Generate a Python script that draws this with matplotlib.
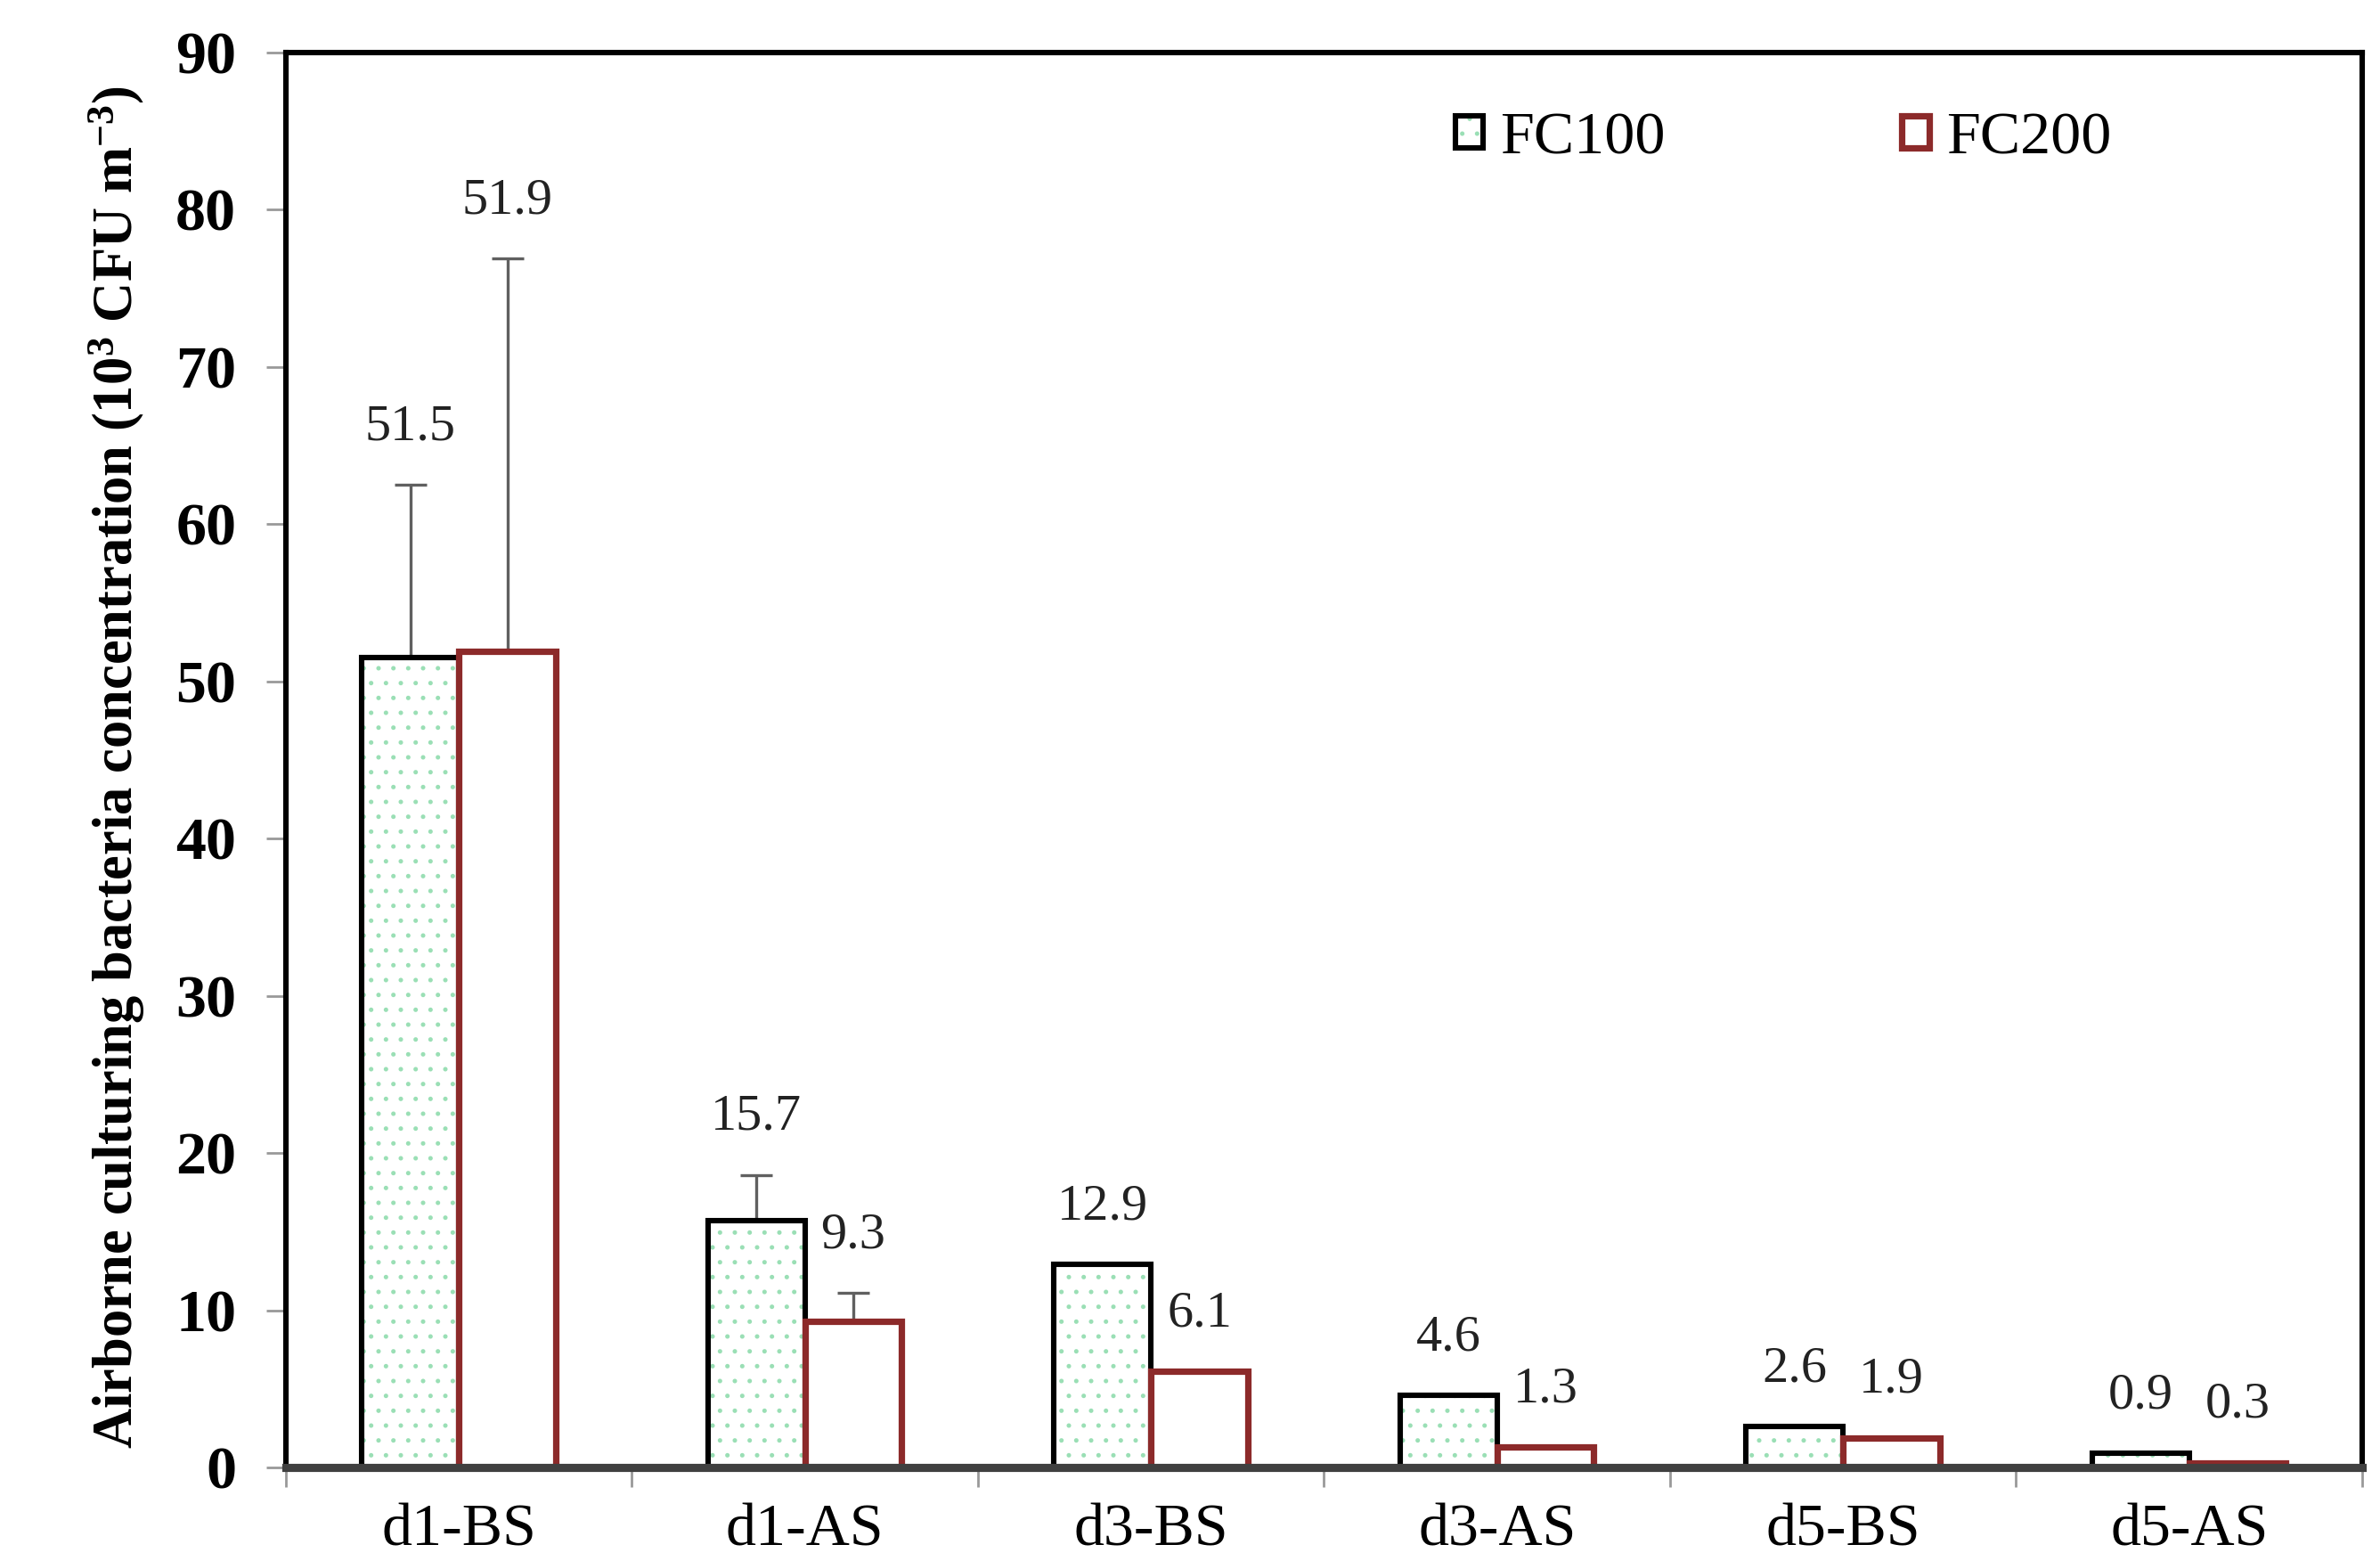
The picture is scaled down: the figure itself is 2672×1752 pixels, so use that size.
import numpy as np
import matplotlib
matplotlib.use('Agg')
import matplotlib.pyplot as plt
from matplotlib.patches import Patch
from matplotlib.legend_handler import HandlerTuple

categories = ['d1-BS', 'd1-AS', 'd3-BS', 'd3-AS', 'd5-BS', 'd5-AS']
series_names = ['FC100', 'FC200']
fc100 = [51.5, 15.7, 12.9, 4.6, 2.6, 0.9]
fc200 = [51.9, 9.3, 6.1, 1.3, 1.9, 0.3]
fc100_err = [11.0, 2.9, 0, 0, 0, 0]
fc200_err = [25.0, 1.8, 0, 0, 0, 0]
y_ticks = [0, 10, 20, 30, 40, 50, 60, 70, 80, 90]

plt.rcParams['font.family'] = ['Liberation Serif', 'DejaVu Serif']
plt.rcParams['mathtext.fontset'] = 'custom'
plt.rcParams['mathtext.default'] = 'regular'
plt.rcParams['hatch.linewidth'] = 0.6

GREEN = '#9adfb5'
RED = '#8c2a2a'

fig = plt.figure(figsize=(13.36, 8.76), dpi=200)
ax = fig.add_axes([0.1201, 0.0599, 0.8724, 0.9064])

x = np.arange(len(categories))
w = 0.28

ax.bar(x - w / 2, fc100, w, facecolor='white', edgecolor=GREEN, linewidth=0, hatch='..', zorder=1)
ax.bar(x - w / 2, fc100, w, facecolor='none', edgecolor='black', linewidth=2.2, zorder=1.1)
ax.bar(x + w / 2, fc200, w, facecolor='white', edgecolor=RED, linewidth=2.6, zorder=1.2)

for vals, errs, off in [(fc100, fc100_err, -w / 2), (fc200, fc200_err, w / 2)]:
    v = np.array(vals)
    e = np.array(errs)
    m = e > 0
    ax.errorbar(x[m] + off, v[m], yerr=[np.zeros(m.sum()), e[m]], fmt='none',
                ecolor='#606060', elinewidth=1.2, capsize=6.5, capthick=1.2, zorder=1.05)
    for xi, vi, ei in zip(x + off, v, e):
        ax.annotate(f'{vi:.1f}', (xi, vi + ei), xytext=(0, 14), textcoords='offset points',
                    ha='center', va='bottom', fontsize=21, color='#222222')

ax.set_xlim(-0.5, len(categories) - 0.5)
ax.set_ylim(0, 90)
ax.set_yticks(y_ticks)
ax.set_xticks(x)
ax.set_xticklabels(categories)
ax.set_xticks(np.arange(-0.5, len(categories), 1), minor=True)
ax.tick_params(axis='x', which='major', length=0, pad=14.5, labelsize=24.5)
ax.tick_params(axis='x', which='minor', length=8, width=1, color='#999999')
ax.tick_params(axis='y', length=8, width=1, color='#999999', pad=12, labelsize=24.5)
for lab in ax.get_yticklabels():
    lab.set_fontweight('bold')

for s in ['top', 'right', 'left']:
    ax.spines[s].set_linewidth(2.2)
    ax.spines[s].set_color('black')
ax.spines['bottom'].set_linewidth(3.3)
ax.spines['bottom'].set_color('#404040')

ax.set_ylabel('Airborne culturing bacteria concentration (10$^3$ CFU m$^{-3}$)',
              fontsize=22.5, fontweight='bold')
ax.yaxis.set_label_coords(-0.067, 0.495)

h1 = (Patch(facecolor='white', edgecolor=GREEN, hatch='..', linewidth=0),
      Patch(facecolor='none', edgecolor='black', linewidth=2.2))
h2 = Patch(facecolor='white', edgecolor=RED, linewidth=2.6)
ax.legend([h1, h2], series_names, handler_map={tuple: HandlerTuple(ndivide=1)},
          ncol=2, frameon=False, loc='center left', bbox_to_anchor=(0.5635, 0.939),
          handlelength=0.45, handleheight=0.45, handletextpad=0.28, columnspacing=3.9,
          borderpad=0, borderaxespad=0, fontsize=24.5)

fig.savefig('out.png', dpi=200)
